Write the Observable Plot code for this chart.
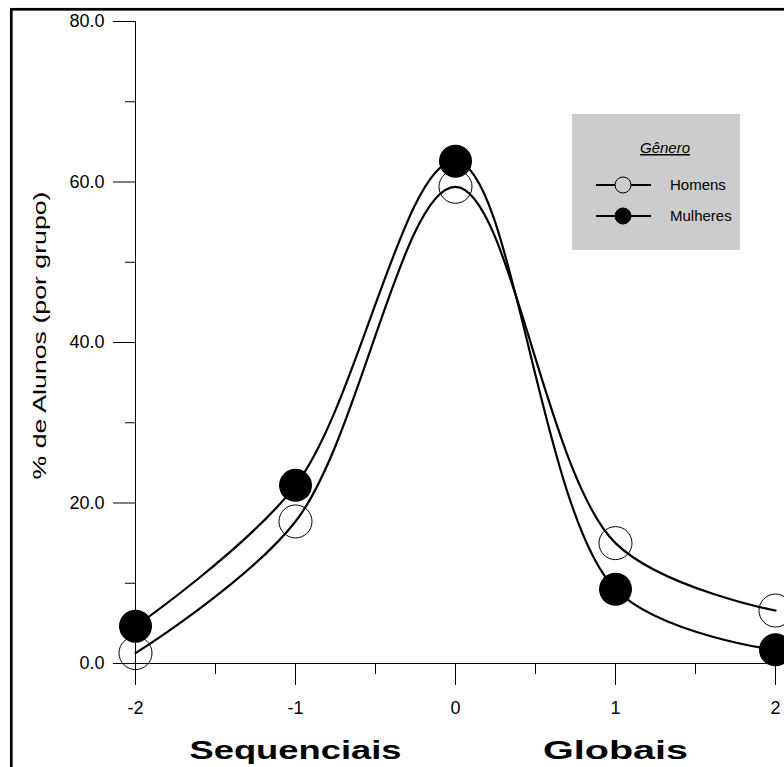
<!DOCTYPE html>
<html><head><meta charset="utf-8">
<script src="https://cdn.jsdelivr.net/npm/d3@7"></script>
<script src="https://cdn.jsdelivr.net/npm/@observablehq/plot@0.6"></script>
<style>
html,body{margin:0;padding:0;background:#fff;}
#chart{position:relative;width:784px;height:767px;overflow:hidden;}
</style></head><body><div id="chart"></div>
<script>
// ---- data ----
const xValues = [-2, -1, 0, 1, 2];
const homens = [1.3, 17.7, 59.4, 15.0, 6.6];
const mulheres = [4.65, 22.2, 62.6, 9.25, 1.7];
const seriesNames = ["Homens", "Mulheres"];
const yMajorTicks = [0, 20, 40, 60, 80];
const yMinorTicks = [10, 30, 50, 70];
const xMajorTicks = [-2, -1, 0, 1, 2];
const xMinorTicks = [-1.5, -0.5, 0.5, 1.5];
const groupX = [-1, 1];
const groupNames = ["Sequenciais", "Globais"];
const yTitle = "% de Alunos (por grupo)";
const legendTitle = "Gênero";

const rows = xValues.flatMap((x, i) => [
  {x, y: homens[i], g: seriesNames[0]},
  {x, y: mulheres[i], g: seriesNames[1]}
]);
const groups = groupX.map((x, i) => ({x, label: groupNames[i]}));

const font = "'Liberation Sans', Arial, Helvetica, sans-serif";

const plot = Plot.plot({
  width: 784, height: 767,
  marginLeft: 135, marginRight: 9, marginTop: 21, marginBottom: 104,
  style: {fontFamily: font, background: "#fff", color: "#000", overflow: "hidden"},
  x: {domain: [-2, 2], axis: null},
  y: {domain: [0, 80], axis: null},
  marks: [
    Plot.ruleY([0], {insetLeft: -22, insetRight: -20, stroke: "#000", strokeWidth: 1}),
    Plot.ruleX([-2], {insetBottom: -22, stroke: "#000", strokeWidth: 1}),
    Plot.axisX({ticks: xMajorTicks, tickSize: 22, tickPadding: 16, fontSize: 18, label: null,
      tickFormat: d => String(d), stroke: "#000", strokeOpacity: 1}),
    Plot.axisX({ticks: xMinorTicks, tickSize: 11, label: null, tickFormat: () => "",
      stroke: "#000", strokeOpacity: 1}),
    Plot.axisY({ticks: yMajorTicks, tickSize: 22, tickPadding: 9, fontSize: 18, label: null,
      tickFormat: d => d.toFixed(1), stroke: "#000", strokeOpacity: 1}),
    Plot.axisY({ticks: yMinorTicks, tickSize: 10, label: null, tickFormat: () => "",
      stroke: "#000", strokeOpacity: 1}),
    Plot.text([yTitle], {frameAnchor: "left", textAnchor: "middle", dx: -95, dy: -7, rotate: -90,
      fontSize: 18, fill: "#000", className: "ytitle"}),
    Plot.text(groups, {x: "x", text: "label", frameAnchor: "bottom", dy: 95, fontSize: 25,
      fontWeight: "bold", fill: "#000", className: "grouplab"}),
    Plot.line(rows, {x: "x", y: "y", z: "g", curve: "catmull-rom", stroke: "#000", strokeWidth: 2.2}),
    Plot.dot(rows.filter(d => d.g === seriesNames[0]), {x: "x", y: "y", r: 16.5, fill: "none",
      stroke: "#000", strokeWidth: 1}),
    Plot.dot(rows.filter(d => d.g === seriesNames[1]), {x: "x", y: "y", r: 16.5, fill: "#000",
      stroke: "none"})
  ]
});

document.getElementById("chart").appendChild(plot);
const svg = d3.select(plot);

// stretched text, as in the reference
svg.selectAll(".ytitle text").attr("textLength", 288).attr("lengthAdjust", "spacingAndGlyphs");
const groupLens = {"Sequenciais": 212, "Globais": 145};
svg.selectAll(".grouplab text").each(function() {
  const t = d3.select(this);
  const len = groupLens[t.text()];
  if (len) t.attr("textLength", len).attr("lengthAdjust", "spacingAndGlyphs");
});

// legend
const lg = svg.append("g").attr("font-family", font).attr("text-anchor", "start");
lg.append("rect").attr("x", 572).attr("y", 114).attr("width", 168).attr("height", 136).attr("fill", "#cccccc");
lg.append("text").attr("x", 665).attr("y", 153).attr("text-anchor", "middle")
  .attr("font-size", 15).attr("font-style", "italic").attr("text-decoration", "underline")
  .attr("fill", "#000").text(legendTitle);
seriesNames.forEach((name, i) => {
  const y = 185 + i * 31;
  lg.append("line").attr("x1", 596).attr("x2", 651).attr("y1", y).attr("y2", y)
    .attr("stroke", "#000").attr("stroke-width", 2.2);
  lg.append("circle").attr("cx", 623).attr("cy", y).attr("r", 8)
    .attr("fill", i === 0 ? "#cccccc" : "#000").attr("stroke", "#000").attr("stroke-width", 1);
  lg.append("text").attr("x", 670).attr("y", y + 5).attr("text-anchor", "start")
    .attr("font-size", 15).attr("fill", "#000").text(name);
});

// outer frame
svg.append("rect").attr("x", 11.3).attr("y", 9.3).attr("width", 900).attr("height", 900)
  .attr("fill", "none").attr("stroke", "#000").attr("stroke-width", 2.7);
</script>
</body></html>
